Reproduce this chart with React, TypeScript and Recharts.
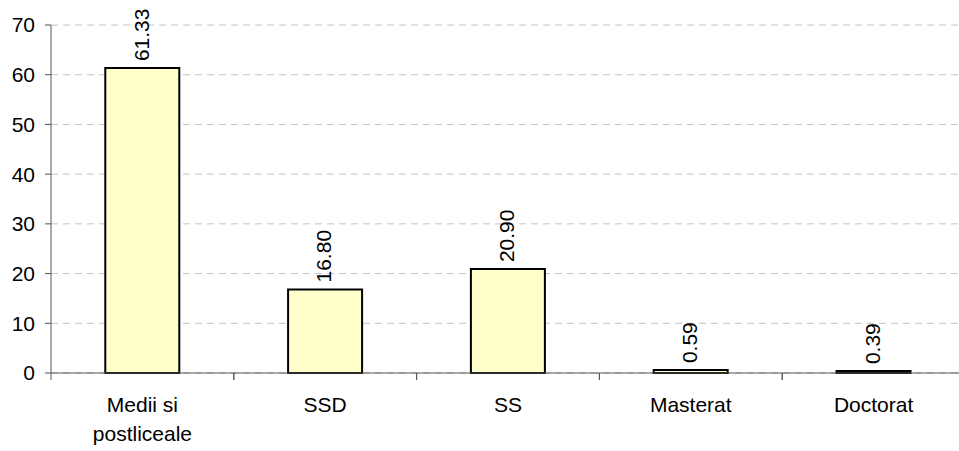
import {Bar, BarChart, CartesianGrid, LabelList, XAxis, YAxis} from 'recharts'

const categories = ['Medii si\npostliceale', 'SSD', 'SS', 'Masterat', 'Doctorat']
const values = [61.33, 16.8, 20.9, 0.59, 0.39]
const yTicks = [0, 10, 20, 30, 40, 50, 60, 70]

const data = categories.map((name, i) => ({name, value: values[i]}))

const font = '"Liberation Sans", Arial, sans-serif'
const chartW = 965
const axisW = 51
const step = (chartW - axisW) / categories.length

function CategoryTick(props: any) {
  const {x, y, payload} = props
  const lines = String(payload.value).split('\n')
  const left = x - step / 2
  return (
    <g>
      <line x1={left} y1={y} x2={left} y2={y + 7} stroke="#555" strokeWidth={1} />
      <line x1={left + step} y1={y} x2={left + step} y2={y + 7} stroke="#555" strokeWidth={1} />
      <text x={x} y={y + 39} textAnchor="middle" fontFamily={font} fontSize={21} fill="#000">
        {lines.map((line, i) => (
          <tspan key={i} x={x} dy={i === 0 ? 0 : 29}>
            {line}
          </tspan>
        ))}
      </text>
    </g>
  )
}

function ValueLabel(props: any) {
  const {x, y, width, value} = props
  const cx = Number(x) + Number(width) / 2
  const ty = Number(y) - 7
  return (
    <text
      x={cx}
      y={ty}
      dy="0.3em"
      transform={`rotate(-90, ${cx}, ${ty})`}
      textAnchor="start"
      fontFamily={font}
      fontSize={21}
      fill="#000"
    >
      {Number(value).toFixed(2)}
    </text>
  )
}

export default function App() {
  return (
    <div style={{position: 'absolute', left: 0, top: 0, width: 959, height: 451, overflow: 'hidden', background: '#fff'}}>
      <BarChart width={chartW} height={451} data={data} margin={{top: 25, right: 0, bottom: 0, left: 0}} barCategoryGap="29.7%">
        <CartesianGrid vertical={false} stroke="#c4c4c4" strokeDasharray="7 5" />
        <XAxis
          dataKey="name"
          height={78}
          interval={0}
          tickLine={false}
          tickSize={0}
          tickMargin={0}
          axisLine={{stroke: '#555', strokeWidth: 1}}
          tick={<CategoryTick />}
        />
        <YAxis
          width={axisW}
          domain={[0, 70]}
          ticks={yTicks}
          interval={0}
          tickSize={6}
          tickMargin={10}
          axisLine={{stroke: '#555', strokeWidth: 1}}
          tickLine={{stroke: '#555', strokeWidth: 1}}
          tick={{fontSize: 21, fill: '#000', fontFamily: font}}
        />
        <Bar dataKey="value" fill="#ffffcc" stroke="#000" strokeWidth={2} isAnimationActive={false}>
          <LabelList dataKey="value" content={<ValueLabel />} />
        </Bar>
      </BarChart>
    </div>
  )
}
